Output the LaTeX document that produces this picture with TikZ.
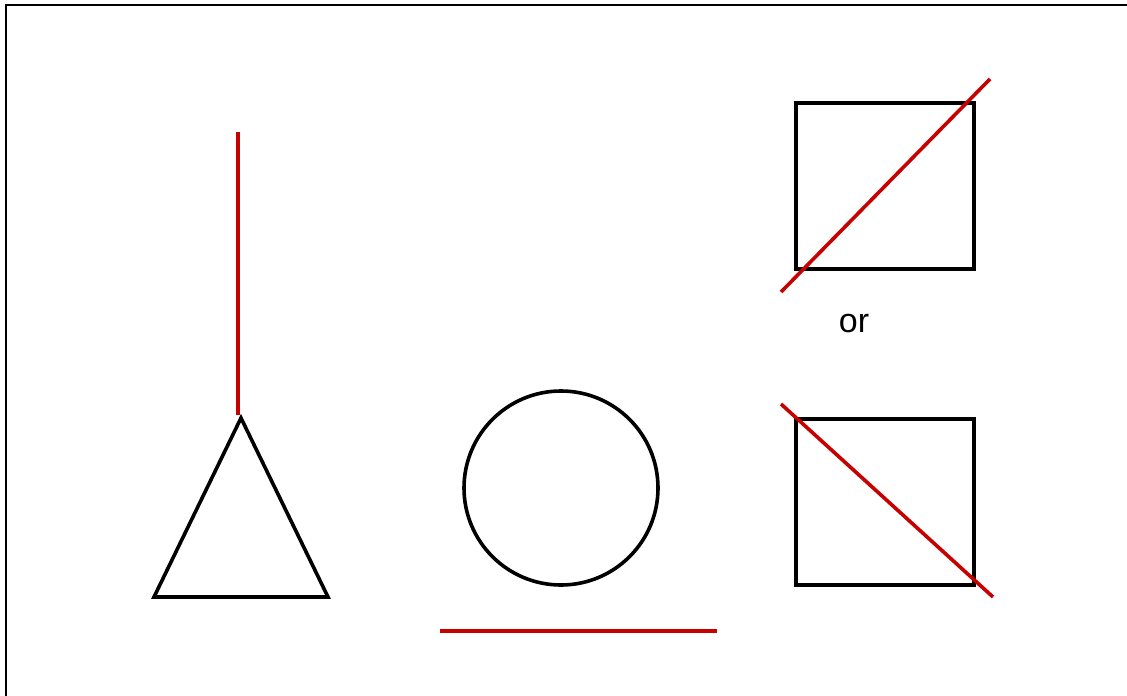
\documentclass[tikz,border=0pt]{standalone}
\usepackage{fontspec}
\setmainfont{Liberation Sans}
\usetikzlibrary{positioning}

\begin{document}
\begin{tikzpicture}[
  x=1pt,y=-1pt,
  shape_line/.style={draw=black,line width=3.6pt},
  cut_line/.style={draw=red!78!black,line width=3.6pt},
  frame_line/.style={draw=black,line width=2.4pt},
]

\useasboundingbox (0,0) rectangle (1127,696);
\fill[white] (0,0) rectangle (1127,696);

%% ===== Frame ================================================================
\draw[frame_line] (1140,5) -- (6,5) -- (6,710);

%% ===== Triangle with vertical line ==========================================
\coordinate (tri_top) at (241,418);
\coordinate (tri_left) at (154,597);
\coordinate (tri_right) at (328,597);
\draw[shape_line,line join=miter] (tri_top) -- (tri_left) -- (tri_right) -- cycle;
\draw[cut_line] (238,132) -- (238,415);

%% ===== Circle with base line ================================================
\coordinate (circ_c) at (561,488);
\draw[shape_line] (circ_c) circle[radius=97];
\draw[cut_line] (440,631) -- (717,631);

%% ===== Rectangles with diagonals ============================================
\draw[shape_line] (796,103) rectangle (974,269);
\draw[cut_line] (781,292) -- (990,79);

\node[font=\fontsize{34}{40}\selectfont,inner sep=0pt] (or) at (854,324) {or};

\draw[shape_line] (796,419) rectangle (974,585);
\draw[cut_line] (781,404) -- (993,597);

\end{tikzpicture}
\end{document}
